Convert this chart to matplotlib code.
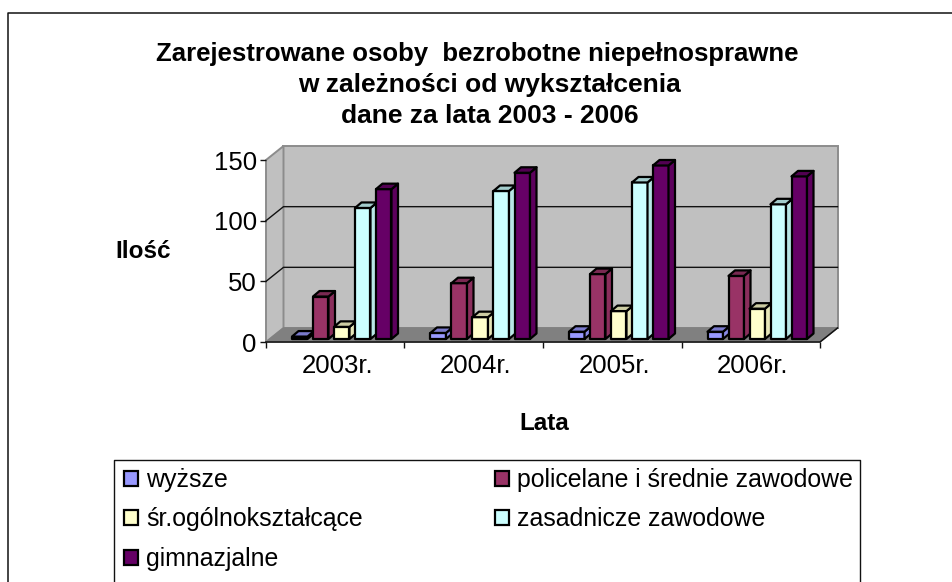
import matplotlib
matplotlib.use("Agg")
import matplotlib.pyplot as plt
from matplotlib.patches import Polygon, Patch
from matplotlib.colors import to_rgb

plt.rcParams['font.family'] = ['Liberation Sans', 'DejaVu Sans']

W, H = 953, 582

years = ['2003r.', '2004r.', '2005r.', '2006r.']
series = ['wyższe', 'policelane i średnie zawodowe', 'śr.ogólnokształcące',
          'zasadnicze zawodowe', 'gimnazjalne']
wyzsze = [2, 5, 6, 6]
policealne = [35, 46, 53.5, 52]
ogolnoksztalcace = [10, 18, 23, 25]
zasadnicze = [108, 122, 129, 111]
gimnazjalne = [123.5, 137, 143, 134]
values = [wyzsze, policealne, ogolnoksztalcace, zasadnicze, gimnazjalne]
colors = ['#9999FF', '#993366', '#FFFFCC', '#CCFFFF', '#660066']
title_lines = ['Zarejestrowane osoby  bezrobotne niepełnosprawne',
               'w zależności od wykształcenia',
               'dane za lata 2003 - 2006']


def fx(px):
    return px / W


def fy(py):
    return 1 - py / H


def shade(c, f):
    return tuple(v * f for v in to_rgb(c))


fig = plt.figure(figsize=(W / 100, H / 100), dpi=100, facecolor='white')

# outer frame and legend box, open at the bottom of the picture
frame = fig.add_axes([0, 0, 1, 1])
frame.set_xlim(0, W)
frame.set_ylim(H, 0)
frame.axis('off')
frame.plot([8.5, 8.5, W], [H, 12.5, 12.5], color='#111111', lw=1.1)
frame.plot([114.5, 114.5, 860.5, 860.5], [H, 459.5, 459.5, H], color='#111111', lw=1.0)

# axes = front plane of the 3d box
left, right, top, bottom = 266, 820, 160, 342
ax = fig.add_axes([fx(left), fy(bottom), (right - left) / W, (bottom - top) / H])
ax.set_xlim(0, 4)
ax.set_ylim(0, 150)
ax.patch.set_visible(False)
for s in ax.spines.values():
    s.set_visible(False)

ux = 4 / (right - left)   # data units per pixel
uy = 150 / (bottom - top)
dx, dy = 17.5 * ux, 14 * uy  # wall depth

ax.add_patch(Polygon([(dx, dy), (4 + dx, dy), (4 + dx, 150 + dy), (dx, 150 + dy)],
                     fc='#C0C0C0', ec='#8C8C8C', lw=1.4, clip_on=False, zorder=1))
ax.add_patch(Polygon([(0, 0), (dx, dy), (dx, 150 + dy), (0, 150)],
                     fc='#C0C0C0', ec='#8C8C8C', lw=1.4, clip_on=False, zorder=1))
ax.add_patch(Polygon([(0, 0), (4, 0), (4 + dx, dy), (dx, dy)],
                     fc='#808080', ec='#808080', lw=1, clip_on=False, zorder=1.5))
for v in [50, 100]:
    ax.plot([0, dx, 4 + dx], [v, v + dy, v + dy], color='#111111', lw=1.0,
            clip_on=False, zorder=2)
ax.plot([0, 4, 4 + dx], [0, 0, dy], color='#111111', lw=1.1, clip_on=False, zorder=2)

# bars
pitch = 21 * ux
front = 15.5 * ux
bx, by = 6.5 * ux, 5.5 * uy
start = 26 * ux
base = 3 * uy
for i, (vals, col) in enumerate(zip(values, colors)):
    for j, v in enumerate(vals):
        x0 = j + start + i * pitch
        x1 = x0 + front
        y0, y1 = base, base + v
        kw = dict(ec='black', lw=1.6, joinstyle='round', clip_on=False, zorder=3 + i + j * 6)
        ax.add_patch(Polygon([(x0, y0), (x1, y0), (x1, y1), (x0, y1)], fc=col, **kw))
        ax.add_patch(Polygon([(x1, y0), (x1 + bx, y0 + by), (x1 + bx, y1 + by), (x1, y1)],
                             fc=shade(col, 0.9), **kw))
        ax.add_patch(Polygon([(x0, y1), (x1, y1), (x1 + bx, y1 + by), (x0 + bx, y1 + by)],
                             fc=shade(col, 0.8), **kw))

ax.set_yticks([0, 50, 100, 150])
ax.set_xticks([0, 1, 2, 3, 4])
ax.set_xticklabels([])
ax.tick_params(axis='both', length=4.5, width=1, color='#111111', labelsize=18.5, pad=2.2)
for j, name in enumerate(years):
    ax.text(j + 0.515, -19.5, name, ha='center', va='center', fontsize=18.5, clip_on=False)

fig.text(fx(544), fy(424), 'Lata', ha='center', va='center', fontsize=17.5, fontweight='bold')
fig.text(fx(143), fy(252), 'Ilość', ha='center', va='center', fontsize=17.5, fontweight='bold')

for line, cx, cy, fs in zip(title_lines, [477, 489, 490], [54.5, 85, 116], [18.5, 19, 19]):
    fig.text(fx(cx), fy(cy), line, ha='center', va='center', fontsize=fs, fontweight='bold')

# legend fills columns first, so the series are given column by column
order = [0, 2, 4, 1, 3]
handles = [Patch(fc=colors[i], ec='black', lw=1.6, label=series[i]) for i in order]
fig.legend(handles=handles, loc='upper left', bbox_to_anchor=(fx(124), fy(468)),
           bbox_transform=fig.transFigure, ncol=2, frameon=False, fontsize=17.95,
           handlelength=0.56, handleheight=0.56, handletextpad=0.32,
           labelspacing=0.62, columnspacing=5.3, borderpad=0, borderaxespad=0)

fig.savefig('out.png', dpi=100)
